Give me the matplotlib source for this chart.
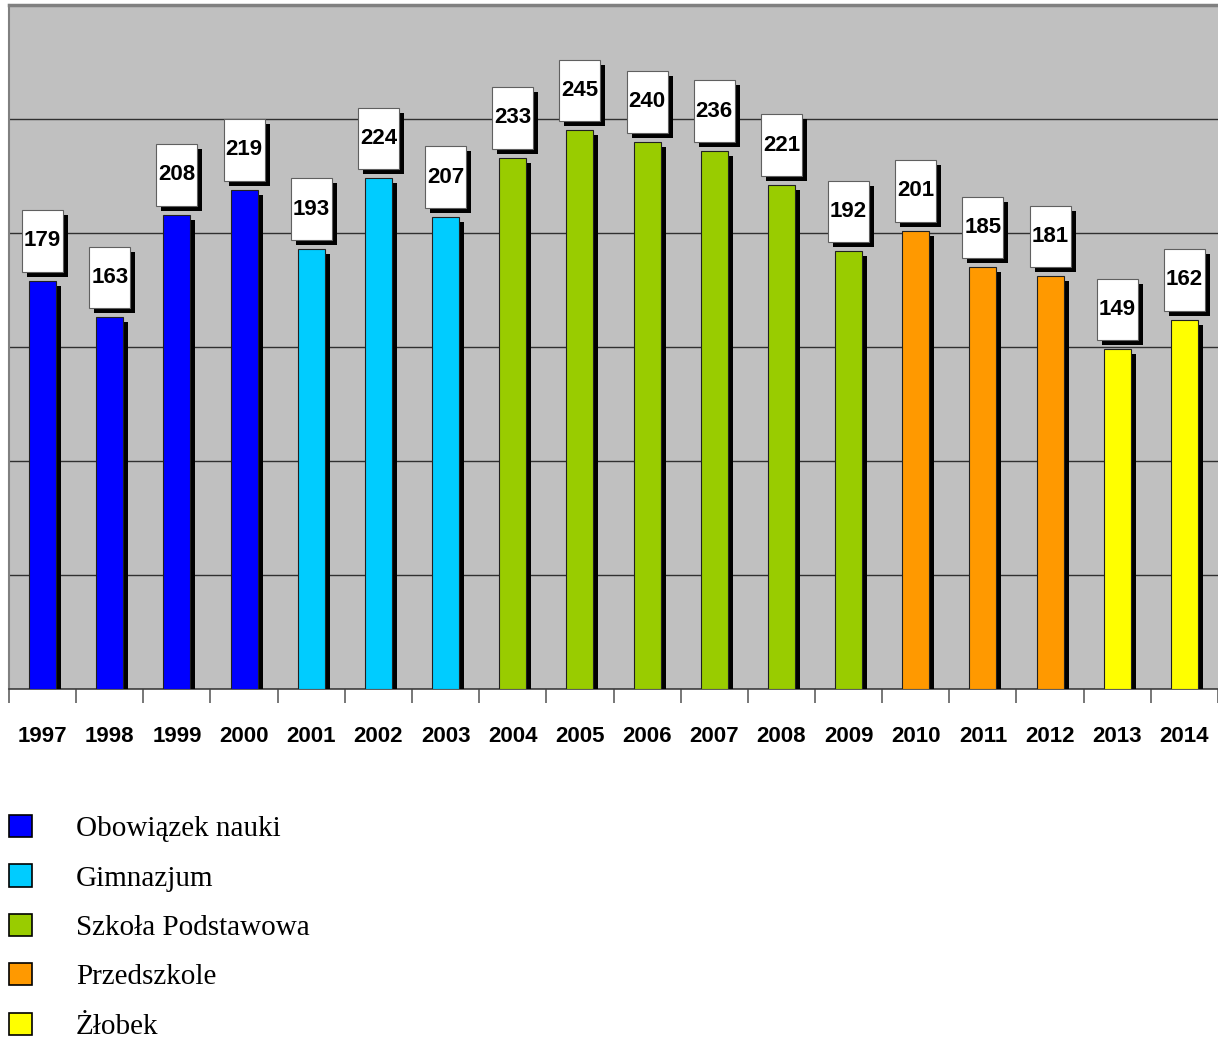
import numpy as np
import matplotlib
matplotlib.use('Agg')
import matplotlib.pyplot as plt
import matplotlib.patheffects as pe
from matplotlib.patches import Patch, Rectangle

YEARS = ['1997', '1998', '1999', '2000', '2001', '2002', '2003', '2004', '2005',
         '2006', '2007', '2008', '2009', '2010', '2011', '2012', '2013', '2014']
VALUES = [179, 163, 208, 219, 193, 224, 207, 233, 245,
          240, 236, 221, 192, 201, 185, 181, 149, 162]
GROUPS = [0, 0, 0, 0, 1, 1, 1, 2, 2, 2, 2, 2, 2, 3, 3, 3, 4, 4]
GROUP_NAMES = ['Obowiązek nauki', 'Gimnazjum', 'Szkoła Podstawowa',
               'Przedszkole', 'Żłobek']
GROUP_COLORS = ['#0000FF', '#00CCFF', '#99CC00', '#FF9900', '#FFFF00']

NUM_FONT = ['Liberation Sans', 'DejaVu Sans']

fig = plt.figure(figsize=(12.18, 10.41), dpi=100)
ax = fig.add_axes([9 / 1218, 352 / 1041, 1209 / 1218, 684 / 1041])
ax.set_facecolor('#C0C0C0')

x = np.arange(len(YEARS))
colors = [GROUP_COLORS[g] for g in GROUPS]
shadow = [pe.SimplePatchShadow(offset=(3.6, -3.6), shadow_rgbFace='black', alpha=1.0),
          pe.Normal()]

bars = ax.bar(x, VALUES, width=0.4, color=colors, edgecolor='#202020',
              linewidth=0.8, zorder=3)
for b in bars:
    b.set_path_effects(shadow)

# value boxes above the bars
box_w, box_h, gap = 0.61, 27.0, 4.0
for xi, v in zip(x, VALUES):
    r = Rectangle((xi - box_w / 2, v + gap), box_w, box_h, facecolor='white',
                  edgecolor='#606060', linewidth=0.8, zorder=4)
    r.set_path_effects(shadow)
    ax.add_patch(r)
    ax.text(xi, v + gap + box_h / 2, str(v), ha='center', va='center',
            fontsize=16, fontweight='bold', family=NUM_FONT, zorder=5)

ax.set_xlim(-0.5, len(YEARS) - 0.5)
ax.set_ylim(0, 300)
ax.set_yticks(np.arange(0, 301, 50))
ax.yaxis.grid(True, color='#303030', linewidth=1.0)
ax.set_axisbelow(True)
ax.tick_params(axis='y', length=0, labelleft=False)

ax.set_xticks(x)
ax.set_xticklabels(YEARS, fontsize=16, fontweight='bold', family=NUM_FONT)
ax.set_xticks(np.arange(-0.5, len(YEARS), 1.0), minor=True)
ax.tick_params(axis='x', which='major', length=0, pad=27)
ax.tick_params(axis='x', which='minor', length=10, color='#606060', width=1.2)

ax.spines['right'].set_visible(False)
ax.spines['top'].set_color('#808080')
ax.spines['top'].set_linewidth(2.5)
ax.spines['left'].set_color('#808080')
ax.spines['left'].set_linewidth(1.5)
ax.spines['bottom'].set_color('#404040')
ax.spines['bottom'].set_linewidth(1.2)

handles = [Patch(facecolor=c, edgecolor='black', linewidth=1.2) for c in GROUP_COLORS]
fig.legend(handles, GROUP_NAMES, loc='upper left', bbox_to_anchor=(0.0, 1 - 806 / 1041),
           frameon=False, prop={'family': 'Liberation Serif', 'size': 21},
           handlelength=0.8, handleheight=0.8, handletextpad=1.5,
           labelspacing=0.76, borderaxespad=0, borderpad=0.3)

fig.savefig('out.png', dpi=100)
